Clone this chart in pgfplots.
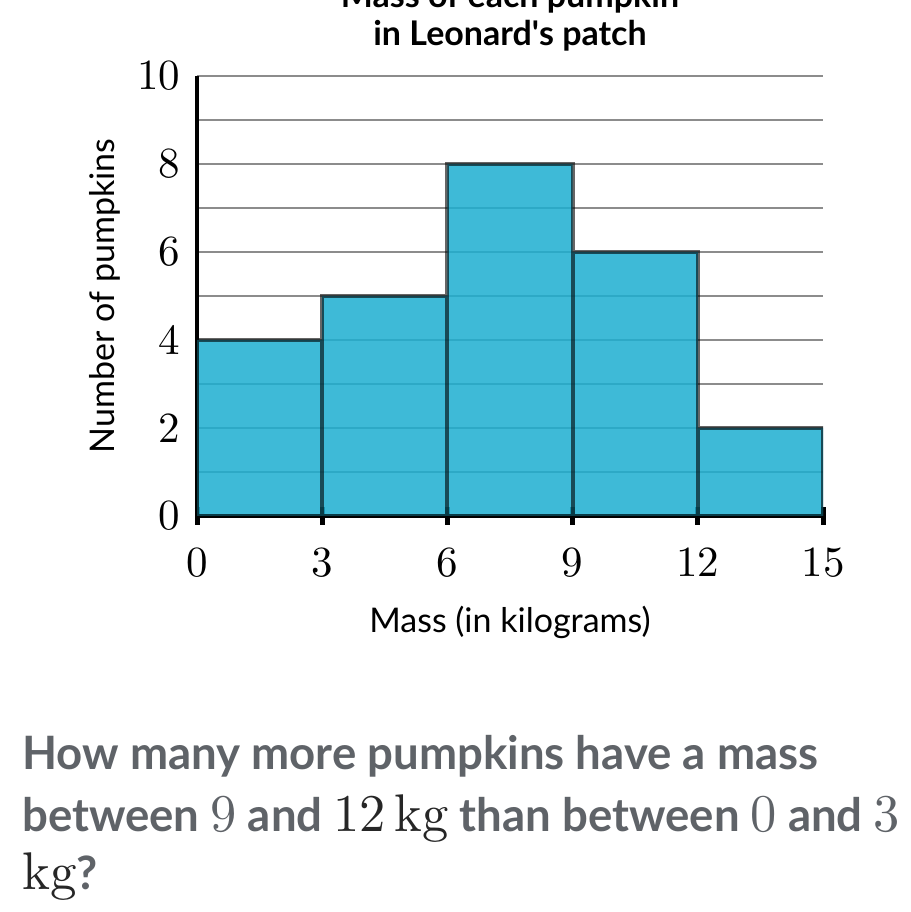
\RequirePackage{fix-cm}
\documentclass[border=0pt]{standalone}
\usepackage{pgfplots}
\pgfplotsset{compat=1.18}
\usepackage{fontspec}
\setmainfont{Lato}
\newfontfamily\lmten{lmroman10-regular.otf}
\definecolor{barfill}{HTML}{1DAFD1}
\definecolor{qgray}{HTML}{5F6368}
\definecolor{gridgray}{HTML}{8C8C8C}
\newcommand{\mth}[1]{{\fontsize{53}{53}\lmten\mdseries #1}}
\begin{document}
\begin{tikzpicture}
\clip (0pt,0pt) rectangle (910pt,912pt);
\fill[white] (0pt,0pt) rectangle (910pt,912pt);
\begin{axis}[
  at={(197pt,396pt)}, anchor=south west,
  scale only axis, width=626pt, height=440pt,
  xmin=0, xmax=15, ymin=0, ymax=10,
  xtick={0,3,...,15}, ytick={0,2,...,10}, minor ytick={1,3,5,7,9},
  ymajorgrids, yminorgrids,
  major grid style={gridgray, line width=2pt},
  minor grid style={gridgray, line width=2pt},
  axis x line*=bottom, axis y line*=left,
  axis line style={-, black, line width=4pt},
  xtick align=center, major tick length=18pt,
  xtick style={black, line width=5pt},
  ytick style={draw=none},
  /pgf/number format/assume math mode=true,
  tick label style={font=\fontsize{43}{43}\lmten},
  xticklabel style={yshift=-19pt},
  yticklabel style={xshift=-13pt},
  xlabel={Mass (in kilograms)},
  ylabel={Number of pumpkins},
  label style={font=\fontsize{34}{34}\selectfont},
  xlabel style={at={(axis description cs:0.5,-0.241)}, anchor=center},
  ylabel style={at={(axis description cs:-0.147,0.5)}, anchor=center},
]
\addplot[ybar interval, fill=barfill, fill opacity=0.85, draw=black, draw opacity=0.6, line width=4pt]
  coordinates {(0,4) (3,5) (6,8) (9,6) (12,2) (15,2)};
\end{axis}
\node[anchor=base, font=\fontsize{34}{34}\selectfont\bfseries] at (510pt,904pt) {Mass of each pumpkin};
\node[anchor=base, font=\fontsize{34}{34}\selectfont\bfseries] at (510pt,866pt) {in Leonard\textquotesingle s patch};
\begin{scope}[every node/.style={anchor=base west, inner sep=0pt, text=qgray, font=\fontsize{46}{46}\selectfont\bfseries}]
\node at (22pt,142pt) {\scalebox{0.99}[1]{How many more pumpkins have a mass}};
\node at (22pt,80pt) {\scalebox{0.99}[1]{between \mth{9} and \mth{\color{black!85}12\,kg} than between \mth{0} and \mth{3}}};
\node at (22pt,22pt) {\mth{\color{black!85}kg}?};
\end{scope}
\end{tikzpicture}
\end{document}
